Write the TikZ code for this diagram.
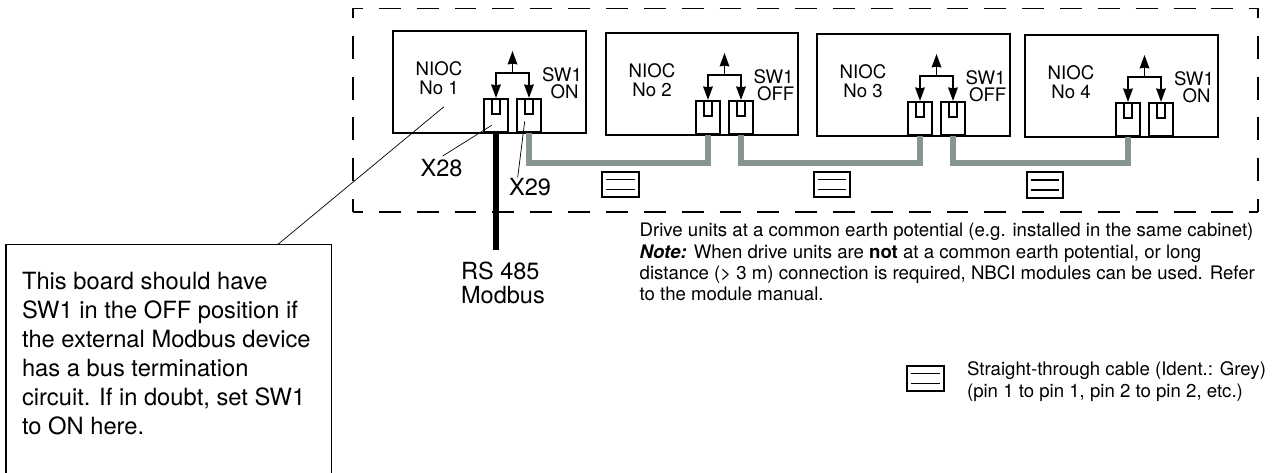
\documentclass[tikz,border=0pt]{standalone}
\usepackage{fontspec}
\setmainfont{TeX Gyre Heros}
\usetikzlibrary{arrows.meta, positioning, calc}
\definecolor{buscolor}{HTML}{87958F}

\begin{document}
\begin{tikzpicture}[
    x=0.02cm, y=-0.02cm,
    every node/.style={font=\fontsize{10.6pt}{11pt}\selectfont, inner sep=0pt},
    board/.style={draw, line width=1.05pt, anchor=north west},
    port/.style={draw, line width=1.05pt, anchor=south, fill=white, minimum width=13.9pt, minimum height=18.9pt},
    lab/.style={align=center},
    swlab/.style={font=\fontsize{10.6pt}{9.9pt}\selectfont, align=left},
    biglab/.style={font=\fontsize{13.4pt}{13.2pt}\selectfont, align=left},
    note/.style={font=\fontsize{10.6pt}{12pt}\selectfont, align=left, anchor=north west},
    callout/.style={font=\fontsize{13.5pt}{16.5pt}\selectfont, align=left, anchor=north west},
    cableicon/.style={draw, line width=1.05pt, minimum width=20.7pt, minimum height=14.6pt},
    tip/.style={line width=1.1pt, -{Stealth[length=7.6pt, width=5.4pt, inset=0.4pt]}},
    leader/.style={line width=0.4pt},
    buswire/.style={buscolor, line width=3.2pt},
    rswire/.style={line width=3.4pt},
    cabh/.style={line width=0.75pt, dash pattern=on 12.47pt off 9.07pt, dash phase=6.8pt},
    cabv/.style={line width=0.75pt, dash pattern=on 13pt off 10.2pt, dash phase=7.6pt},
]
\useasboundingbox (0,0) rectangle (1279,473);

% the cabinet, dashed all the way round
\coordinate (tl) at (353,8.5);
\coordinate (tr) at (1258,8.5);
\coordinate (bl) at (353,212);
\coordinate (br) at (1258,212);
\draw[cabh] (tl) -- (tr);
\draw[cabh] (bl) -- (br);
\draw[cabv] (tl) -- (bl);
\draw[cabv] (tr) -- (br);

% ---------------- boards
\foreach \n/\bx/\by/\bw/\pa/\pb/\sx/\sw/\shift in {
    1/392/30/194/104/137/562/ON/4.9pt,
    2/605/32/193/103/136/774/OFF/1.9pt,
    3/816/33/194/104/137/986/OFF/1.9pt,
    4/1024/34/194/104/137/1194/ON/4.9pt}{
    \node[board, minimum width=\bw*0.5669pt, minimum height=58.3pt] (nioc\n) at (\bx,\by) {};
    \node[lab] (name\n) at ({\bx+47}, {\by+48}) {NIOC\\No \n};
    \node[port] (xa\n) at ({\bx+\pa},{\by+103}) {};
    \node[port] (xb\n) at ({\bx+\pb},{\by+103}) {};
    \node[swlab] (sw\n) at (\sx, {\by+53}) {SW1\\\hspace{\shift}\sw};
    % the small slots
    \foreach \p in {xa,xb}{
        \draw[line width=1.05pt] ($(\p\n.north)+(-4,0)$) -- ++(0,16) -- ++(8,0) -- ++(0,-16);
    }
    % the switch arrows
    \coordinate (bar\n) at ($(xa\n.north)!0.5!(xb\n.north)+(0,-25)$);
    \coordinate (up\n) at ($(bar\n)+(0,-22)$);
    \draw[tip] (bar\n) -- (up\n);
    \draw[tip] (bar\n) -| (xa\n.north);
    \draw[tip] (bar\n) -| (xb\n.north);
}

% ---------------- bus
\coordinate (bus) at (0,163);
\draw[buswire] (xb1.south) |- (bus -| xa2.south) -- (xa2.south);
\draw[buswire] (xb2.south) |- (bus -| xa3.south) -- (xa3.south);
\draw[buswire] (xb3.south) |- (bus -| xa4.south) -- (xa4.south);
\coordinate (rsend) at (xa1.south |- 0,250);
\draw[rswire] (xa1.south) -- (rsend);

% ---------------- cable symbols
\foreach \n/\cx/\cy in {1/620.5/184.5, 2/832/184.5, 3/1045/185, 4/925.5/378.5}{
    \node[cableicon] (cable\n) at (\cx,\cy) {};
    \draw[line width=1.05pt] ($(cable\n.west)+(5,-5)$) -- ($(cable\n.east)+(-5,-5)$);
    \draw[line width=1.05pt] ($(cable\n.west)+(5,5)$) -- ($(cable\n.east)+(-5,5)$);
}

% ---------------- labels
\node[biglab] (x28) at (441.5,168) {X28};
\node[biglab] (x29) at (530,187) {X29};
\node[biglab, anchor=north west] (rs) at (460.7,262) {RS 485\\Modbus};
\coordinate (x28in) at (491.7,125.3);
\coordinate (x28out) at (442.7,156);
\coordinate (x29in) at (524.7,121.3);
\coordinate (x29out) at (517.7,177.3);
\draw[leader] (x28in) -- (x28out);
\draw[leader] (x29in) -- (x29out);

\node[note] (remark) at (639.3,223) {Drive units at a common earth potential (e.g. installed in the same cabinet)\\
    \textbf{\textit{Note:}} When drive units are \textbf{not} at a common earth potential, or long\\
    distance (> 3 m) connection is required, NBCI modules can be used. Refer\\
    to the module manual.};
\node[note, font=\fontsize{10.6pt}{12.6pt}\selectfont] (legend) at (966.7,361) {Straight-through cable (Ident.: Grey)\\(pin 1 to pin 1, pin 2 to pin 2, etc.)};

% ---------------- call-out, runs off the bottom
\coordinate (boxa) at (6,473);
\coordinate (boxb) at (6,244.3);
\coordinate (boxc) at (331.7,244.3);
\coordinate (boxd) at (331.7,473);
\draw[line width=0.6pt] (boxa) -- (boxb) -- (boxc) -- (boxd);
\coordinate (lead) at (278,244.3);
\coordinate (leadin) at (444,106.7);
\draw[leader] (leadin) -- (lead);
\node[callout] (hint) at (21.7,272) {This board should have\\SW1 in the OFF position if\\the external Modbus device\\has a bus termination\\circuit. If in doubt, set SW1\\to ON here.};
\end{tikzpicture}
\end{document}
